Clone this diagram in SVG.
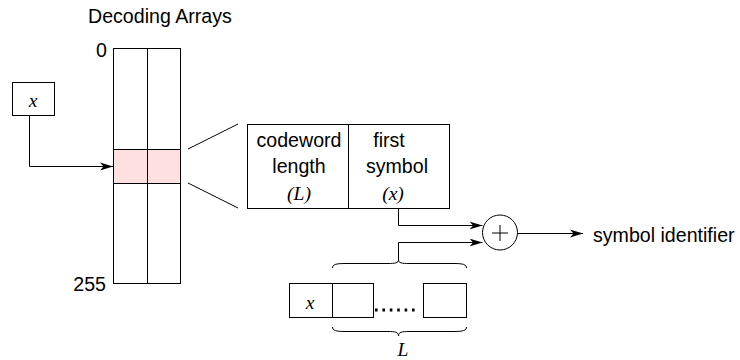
<svg xmlns="http://www.w3.org/2000/svg" width="740" height="360" viewBox="0 0 740 360">
<style>
.s{fill:none;stroke:#000;stroke-width:1}
.b{fill:#fff;stroke:#000;stroke-width:1}
.t{font-family:"Liberation Sans",Arial,sans-serif;font-size:19.6px;fill:#000}
.m{font-family:"Liberation Serif","Times New Roman",serif;font-style:italic;font-size:19.6px;fill:#000}
</style>
<defs>
<marker id="ah" markerWidth="14" markerHeight="9" refX="13" refY="4.5" orient="auto" markerUnits="userSpaceOnUse">
<path d="M0,0.5 L13,4.5 L0,8.5 L3.5,4.5 z" fill="#000"/>
</marker>
</defs>
<rect width="740" height="360" fill="#fff"/>

<g id="title">
<text class="t" x="88" y="23">Decoding Arrays</text>
</g>

<g id="decoding-array">
<rect class="b" x="113.5" y="48.5" width="67" height="235"/>
<rect x="113.5" y="149.5" width="67" height="34" fill="#ffe0e0" stroke="#000"/>
<line class="s" x1="147.5" y1="48.5" x2="147.5" y2="283.5"/>
<text class="t" x="107" y="57" text-anchor="end">0</text>
<text class="t" x="106" y="291" text-anchor="end">255</text>
</g>

<g id="input-x">
<rect class="b" x="12.5" y="82.5" width="42" height="33"/>
<text class="m" x="33" y="107" text-anchor="middle">x</text>
</g>

<g id="entry-detail">
<rect class="b" x="247.5" y="124.5" width="202" height="84"/>
<line class="s" x1="348.5" y1="124.5" x2="348.5" y2="208.5"/>
<text class="t" x="299" y="147" text-anchor="middle">codeword</text>
<text class="t" x="299" y="173" text-anchor="middle">length</text>
<text class="m" x="299" y="200" text-anchor="middle">(L)</text>
<text class="t" x="389" y="147" text-anchor="middle">first</text>
<text class="t" x="397" y="173" text-anchor="middle">symbol</text>
<text class="m" x="393" y="200" text-anchor="middle">(x)</text>
</g>

<g id="adder">
<circle class="b" cx="500" cy="232.5" r="17.5"/>
<line class="s" x1="492" y1="233" x2="508" y2="233"/>
<line class="s" x1="500" y1="225" x2="500" y2="241"/>
</g>

<g id="output-label">
<text class="t" x="593" y="242">symbol identifier</text>
</g>

<g id="bit-register">
<rect class="b" x="289.5" y="283.5" width="43" height="34"/>
<rect class="b" x="332.5" y="283.5" width="41" height="34"/>
<rect class="b" x="423.5" y="283.5" width="43" height="34"/>
<text class="m" x="310" y="309" text-anchor="middle">x</text>
<line x1="375" y1="310" x2="416" y2="310" stroke="#000" stroke-width="3" stroke-dasharray="2.6 4.8"/>
<path class="s" d="M332.5,268 C332.5,264.5 336,263.5 345,263.5 L388,263.5 C395,263.5 398.5,263 398.5,260 C398.5,263 402,263.5 409,263.5 L454,263.5 C463,263.5 466.5,264.5 466.5,268"/>
<path class="s" d="M332.5,327 C332.5,330.5 336,331.5 345,331.5 L388,331.5 C395,331.5 398.5,332 398.5,336 C398.5,332 402,331.5 409,331.5 L454,331.5 C463,331.5 466.5,330.5 466.5,327"/>
<text class="m" x="403" y="356" text-anchor="middle">L</text>
</g>

<g id="connectors">
<path class="s" d="M29.5,115.5 V166.5 H113" marker-end="url(#ah)"/>
<line class="s" x1="188" y1="149" x2="238" y2="124"/>
<line class="s" x1="188" y1="183" x2="238" y2="208"/>
<path class="s" d="M398.5,208.5 V225.5 H482.5" marker-end="url(#ah)"/>
<path class="s" d="M398.5,260 V242.5 H482.5" marker-end="url(#ah)"/>
<path class="s" d="M517.5,233.5 H583" marker-end="url(#ah)"/>
</g>
</svg>
